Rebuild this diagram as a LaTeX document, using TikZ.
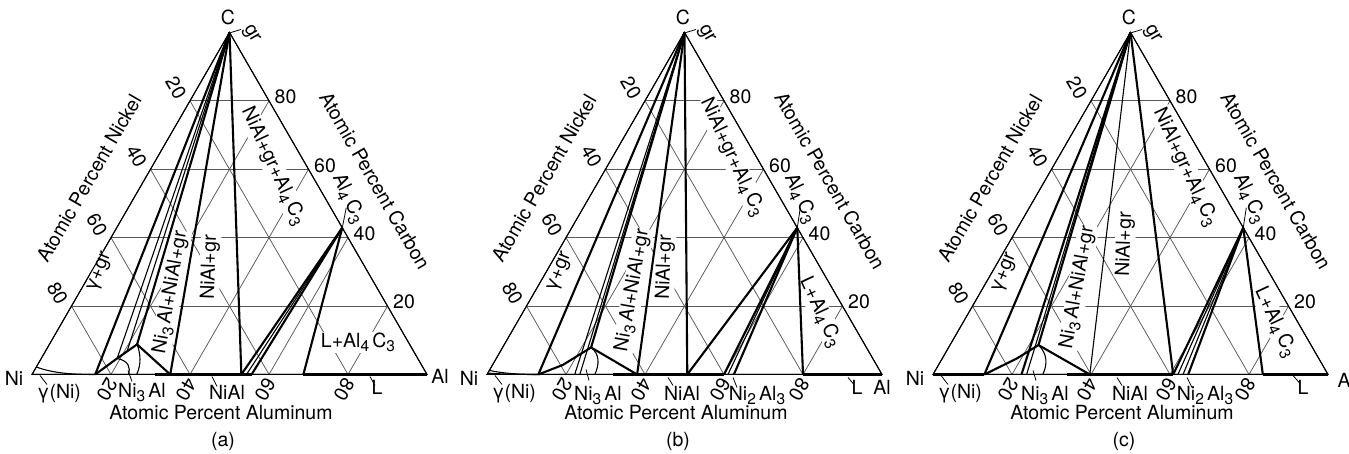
\documentclass[tikz,border=0pt]{standalone}
\usepackage{fontspec}
\setmainfont{TeX Gyre Heros}
\tikzset{
  gridline/.style={line width=0.75bp, draw=black!65},
  edgeline/.style={line width=1bp, draw=black},
  phase/.style={line width=2.1bp, line join=round},
  phasethin/.style={line width=1.1bp},
  basebar/.style={line width=3.8bp},
  leader/.style={line width=0.8bp},
  lab/.style={font=\fontsize{19.5bp}{20bp}\selectfont, inner sep=0.5bp},
  plab/.style={lab, fill=white, inner sep=1bp},
  tern/.style={x={(395bp,0bp)}, y={(197.5bp,342.08bp)}},
}
\newcommand\lo[1]{\raisebox{-0.45ex}{\fontsize{15.5bp}{15.5bp}\selectfont #1}}
\newcommand\TFrame[1]{%
  \begin{scope}[tern]
    \foreach \k in {0.2,0.4,0.6,0.8}{%
      \draw[gridline] (0,\k) -- ({1-\k},\k);
      \draw[gridline] (\k,0) -- (\k,{1-\k});
      \draw[gridline] (\k,0) -- (0,\k);
    }
    \draw[edgeline] (0,0) -- (1,0) -- (0,1) -- cycle;
    \foreach \n/\c in {20/0.8,40/0.6,60/0.4,80/0.2}
      \node[lab,rotate=-60] at ([shift={(-14bp,13bp)}]0,\c) {\n};
    \foreach \n/\a/\c in {80/0.2/0.8,60/0.4/0.6,40/0.6/0.4,20/0.8/0.2}
      \node[lab,anchor=west] at ([shift={(5bp,4bp)}]\a,\c) {\n};
    \foreach \n/\a in {20/0.2,40/0.4,60/0.6,80/0.8}
      \node[lab,rotate=-120] at ([shift={(-4bp,-15bp)}]\a,0) {\n};
  \end{scope}
  \node[lab] (Clab) at (196,357) {C};
  \node[lab,rotate=-60] (grlab) at (219,340) {gr};
  \draw[leader] (199,342) -- (209,345);
  \node[lab] (Nilab) at (-18,-4) {Ni};
  \node[lab] (gNilab) at (27,-19) {γ(Ni)};
  \draw[leader] (8,-1) -- (15,-10);
  \node[lab,rotate=60] (tNi) at (57,196) {Atomic Percent Nickel};
  \node[lab,rotate=-60] (tC) at (343,194) {Atomic Percent Carbon};
  \node[lab] (tAl) at (189,-38) {Atomic Percent Aluminum};
  \node[lab] (cap) at (191,-67) {(#1)};
}
\begin{document}
\begin{tikzpicture}[x=1bp,y=1bp]
\fill[white] (0,0) rectangle (1349,454);
\useasboundingbox (0,0) rectangle (1349,454);

% ---------------- (a) ----------------
\begin{scope}[shift={(32,79.5)}]
  \TFrame{a}
  \node[plab,rotate=68] at (68,102) {γ+gr};
  \node[plab,rotate=80] at (139,82) {Ni\lo{3}\,Al+NiAl+gr};
  \node[plab,rotate=88] at (178,107) {NiAl+gr};
  \node[plab,rotate=-65] at (241,208) {NiAl+gr+Al\lo{4}\,C\lo{3}};
  \node[plab] at (326,32) {L+Al\lo{4}\,C\lo{3}};
  \node[lab,rotate=-65] at (316,176) {Al\lo{4}\,C\lo{3}};
  \node[lab] at (110,-18) {Ni\lo{3}\,Al};
  \node[lab] at (195,-18) {NiAl};
  \node[lab] at (345,-13) {L};
  \node[lab] at (408,-2) {Al};
  \draw[leader] (96,4) -- (100,-7);
  \draw[leader] (180,-2) -- (185,-12);
  \draw[leader] (338,-2) -- (343,-11);
  \begin{scope}[tern]
    \coordinate (apex) at (0,1);
    \coordinate (alc) at (0.571,0.429);
    \draw[edgeline] (0,0) -- (1,0) -- (0,1) -- cycle;
    \draw[basebar] (0.311,0) -- (0.556,0);
    \draw[basebar] (0.687,0) -- (1,0);
    \draw[phasethin] (0,0.022) .. controls (0.05,0.004) and (0.1,0) .. (0.16,0);
    \draw[phase] (0.16,0) -- (0.192,0.047) -- (0.222,0.088) -- (0.35,0);
    \draw[phasethin] (0.192,0.047) .. controls (0.225,0.04) and (0.24,0.02) .. (0.244,0);
    \draw[phasethin] (0.222,0.088) .. controls (0.245,0.06) and (0.262,0.03) .. (0.265,0);
    \draw[phase] (apex) -- (0.16,0);
    \draw[phasethin] (apex) -- (0.192,0.047);
    \draw[phasethin] (apex) -- (0.207,0.067);
    \draw[phase] (apex) -- (0.222,0.088);
    \draw[phase] (apex) -- (0.35,0);
    \draw[phase] (apex) -- (0.53,0);
    \draw[phase] (alc) -- (0.53,0);
    \draw[phasethin] (alc) -- (0.543,0);
    \draw[phase] (alc) -- (0.556,0);
    \draw[phase] (alc) -- (0.687,0);
    \draw[leader] (alc) -- ++(4bp,20bp);
  \end{scope}
\end{scope}

% ---------------- (b) ----------------
\begin{scope}[shift={(487,79.5)}]
  \TFrame{b}
  \node[plab,rotate=68] at (73,102) {γ+gr};
  \node[plab,rotate=80] at (146,84) {Ni\lo{3}\,Al+NiAl+gr};
  \node[plab,rotate=88] at (178,107) {NiAl+gr};
  \node[plab,rotate=-65] at (245,217) {NiAl+gr+Al\lo{4}\,C\lo{3}};
  \node[plab,rotate=-65] at (333,62) {L+Al\lo{4}\,C\lo{3}};
  \node[lab,rotate=-65] at (313,176) {Al\lo{4}\,C\lo{3}};
  \node[lab] at (111,-21) {Ni\lo{3}\,Al};
  \node[lab] at (195,-19) {NiAl};
  \node[lab] at (270,-21) {Ni\lo{2}\,Al\lo{3}};
  \node[lab] at (370,-13) {L};
  \node[lab] at (395,-13) {Al};
  \draw[leader] (99,5) -- (102,-6);
  \draw[leader] (181,-3) -- (186,-11);
  \draw[leader] (246,-3) -- (250,-13);
  \draw[leader] (361,-3) -- (367,-10);
  \begin{scope}[tern]
    \coordinate (apex) at (0,1);
    \coordinate (alc) at (0.571,0.429);
    \draw[edgeline] (0,0) -- (1,0) -- (0,1) -- cycle;
    \draw[basebar] (0.32,0) -- (0.60,0);
    \draw[basebar] (0.80,0) -- (1,0);
    \draw[phasethin] (0,0.012) .. controls (0.04,0.003) and (0.08,0) .. (0.13,0);
    \draw[phasethin] (0,0.004) .. controls (0.04,0.001) and (0.08,0) .. (0.13,0);
    \draw[phase] (0.13,0) -- (0.178,0.028) -- (0.224,0.079) -- (0.38,0);
    \draw[phasethin] (0.224,0.079) .. controls (0.255,0.06) and (0.27,0.03) .. (0.273,0);
    \draw[phase] (apex) -- (0.13,0);
    \draw[phasethin] (apex) -- (0.222,0);
    \draw[phasethin] (apex) -- (0.235,0);
    \draw[phase] (apex) -- (0.224,0.079);
    \draw[phase] (apex) -- (0.38,0);
    \draw[phase] (apex) -- (0.507,0);
    \draw[phase] (alc) -- (0.507,0);
    \draw[phase] (alc) -- (0.60,0);
    \draw[phasethin] (alc) -- (0.61,0);
    \draw[phase] (alc) -- (0.625,0);
    \draw[phase] (alc) -- (0.80,0);
    \draw[leader] (alc) -- ++(3bp,20bp);
  \end{scope}
\end{scope}

% ---------------- (c) ----------------
\begin{scope}[shift={(933,79.5)}]
  \TFrame{c}
  \node[plab,rotate=68] at (72,101) {γ+gr};
  \node[plab,rotate=80] at (145,87) {Ni\lo{3}\,Al+NiAl+gr};
  \node[plab,rotate=88] at (192,130) {NiAl+gr};
  \node[plab,rotate=-65] at (252,207) {NiAl+gr+Al\lo{4}\,C\lo{3}};
  \node[plab,rotate=-65] at (342,52) {L+Al\lo{4}\,C\lo{3}};
  \node[lab,rotate=-65] at (316,176) {Al\lo{4}\,C\lo{3}};
  \node[lab] at (112,-21) {Ni\lo{3}\,Al};
  \node[lab] at (197,-19) {NiAl};
  \node[lab] at (272,-21) {Ni\lo{2}\,Al\lo{3}};
  \node[lab] at (370,-13) {L};
  \node[lab,anchor=west] at (404,-6) {Al};
  \draw[leader] (100,4) -- (103,-6);
  \draw[leader] (184,-3) -- (189,-11);
  \draw[leader] (254,-3) -- (259,-13);
  \draw[leader] (360,-1) -- (367,-9);
  \begin{scope}[tern]
    \coordinate (apex) at (0,1);
    \coordinate (alc) at (0.571,0.429);
    \draw[edgeline] (0,0) -- (1,0) -- (0,1) -- cycle;
    \draw[basebar] (0,0) -- (0.13,0);
    \draw[basebar] (0.34,0) -- (0.608,0);
    \draw[basebar] (0.835,0) -- (1,0);
    \draw[phase] (0.13,0) -- (0.189,0.047) -- (0.224,0.086) -- (0.397,0);
    \draw[phasethin] (0.224,0.086) .. controls (0.26,0.06) and (0.275,0.03) .. (0.278,0);
    \draw[phase] (apex) -- (0.13,0);
    \draw[phase] (apex) -- (0.224,0);
    \draw[phasethin] (apex) -- (0.237,0);
    \draw[phase] (apex) -- (0.224,0.086);
    \draw[phasethin] (apex) -- (0.397,0);
    \draw[phase] (apex) -- (0.608,0);
    \draw[phase] (alc) -- (0.608,0);
    \draw[phasethin] (alc) -- (0.62,0);
    \draw[phasethin] (alc) -- (0.633,0);
    \draw[phase] (alc) -- (0.646,0);
    \draw[phase] (alc) -- (0.835,0);
    \draw[leader] (alc) -- ++(3bp,20bp);
  \end{scope}
\end{scope}
\end{tikzpicture}
\end{document}
